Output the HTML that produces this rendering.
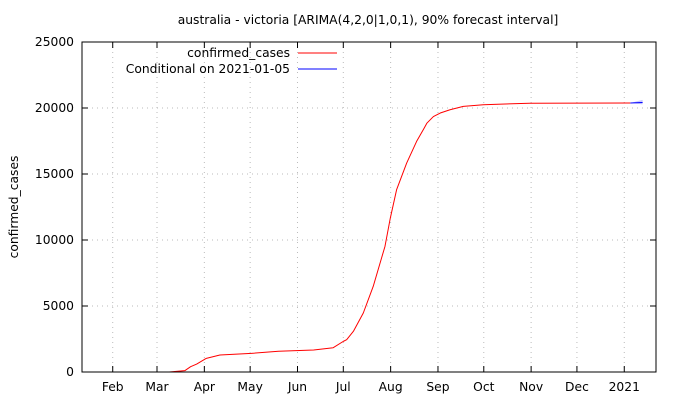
<!DOCTYPE html>
<html><head><meta charset="utf-8"><style>
body{margin:0;background:#fff}
svg{display:block;font-family:"DejaVu Sans","Liberation Sans",sans-serif;font-size:12.3px}
</style></head><body>
<svg id="c" width="680" height="400">
<defs><clipPath id="pc"><rect x="82" y="42" width="574" height="330"/></clipPath></defs>
<text x="368" y="24" text-anchor="middle">australia - victoria [ARIMA(4,2,0|1,0,1), 90% forecast interval]</text>
<text transform="translate(18,207) rotate(-90)" text-anchor="middle">confirmed_cases</text>
<g id="grid"></g><g id="ticks"></g><g id="series" clip-path="url(#pc)"></g>
<rect x="82" y="42" width="574" height="330" fill="none" stroke="#000" stroke-width="1"/>
<g>
<text x="290" y="57" text-anchor="end">confirmed_cases</text>
<line x1="298" y1="53" x2="337" y2="53" stroke="#f00"/>
<text x="290" y="73" text-anchor="end">Conditional on 2021-01-05</text>
<line x1="298" y1="69" x2="337" y2="69" stroke="#00f"/>
</g>
</svg>
<script>
const monthLabels=["Feb","Mar","Apr","May","Jun","Jul","Aug","Sep","Oct","Nov","Dec","2021"];
const monthDays=[31,60,91,121,152,182,213,244,274,305,335,366];
const yTicks=[0,5000,10000,15000,20000,25000];
const days=[68,78.2,82,86,92.3,101.2,121.7,139.6,162.6,175.4,182,184.2,188.6,195.1,201.6,209.3,212.8,216.9,223.5,230,234.4,236.8,241,245.5,251.9,260.6,273.7,304,335,370];
const cases=[0,100,400,600,1035,1290,1410,1570,1670,1840,2320,2450,3080,4470,6490,9520,11670,13810,15830,17470,18360,18860,19350,19620,19870,20120,20250,20360,20370,20380];
const fcDays=[370,374,378];
const fcMean=[20380,20400,20420];
const fcLow=[20380,20320,20270];
const fcHigh=[20380,20500,20620];
const X=d=>343.3+(d-182)*1.527;
const Y=v=>372-v/5000*66;
const NS="http://www.w3.org/2000/svg";
function mk(tag,attrs,parent){const e=document.createElementNS(NS,tag);for(const k in attrs)e.setAttribute(k,attrs[k]);document.getElementById(parent).appendChild(e);return e;}
monthDays.forEach((d,i)=>{
  const x=X(d);
  const g=mk("line",{x1:x,y1:42,x2:x,y2:372,stroke:"#bbb","stroke-dasharray":"1,4"},"grid");
  
  
  const t1=mk("line",{x1:x,y1:372,x2:x,y2:366,stroke:"#000"},"ticks");
  
  
  const t2=mk("line",{x1:x,y1:42,x2:x,y2:48,stroke:"#000"},"ticks");
  
  
  const l=mk("text",{x:x,y:391,"text-anchor":"middle"},"ticks");l.textContent=monthLabels[i];
  
  
});
yTicks.forEach(v=>{
  const y=Y(v);
  if(v>0&&v<25000){const g=mk("line",{x1:82,y1:y,x2:656,y2:y,stroke:"#bbb","stroke-dasharray":"1,4"},"grid");
  
  }
  const t1=mk("line",{x1:82,y1:y,x2:88,y2:y,stroke:"#000"},"ticks");
  
  
  const t2=mk("line",{x1:650,y1:y,x2:656,y2:y,stroke:"#000"},"ticks");
  
  
  const l=mk("text",{x:74,y:y+4,"text-anchor":"end"},"ticks");l.textContent=v;
  
  
});
const line=mk("polyline",{points:days.map((d,i)=>X(d)+","+Y(cases[i])).join(" "),fill:"none",stroke:"#f00","stroke-width":1,"stroke-linejoin":"round"},"series");


const band=mk("polygon",{points:fcDays.map((d,i)=>X(d)+","+Y(fcHigh[i])).concat(fcDays.slice().reverse().map((d,j)=>{const i=fcDays.length-1-j;return X(d)+","+Y(fcLow[i]);})).join(" "),fill:"#c8c8ff",stroke:"none"},"series");


const fl=mk("polyline",{points:fcDays.map((d,i)=>X(d)+","+Y(fcMean[i])).join(" "),fill:"none",stroke:"#00f","stroke-width":1},"series");


</script>
</body></html>
